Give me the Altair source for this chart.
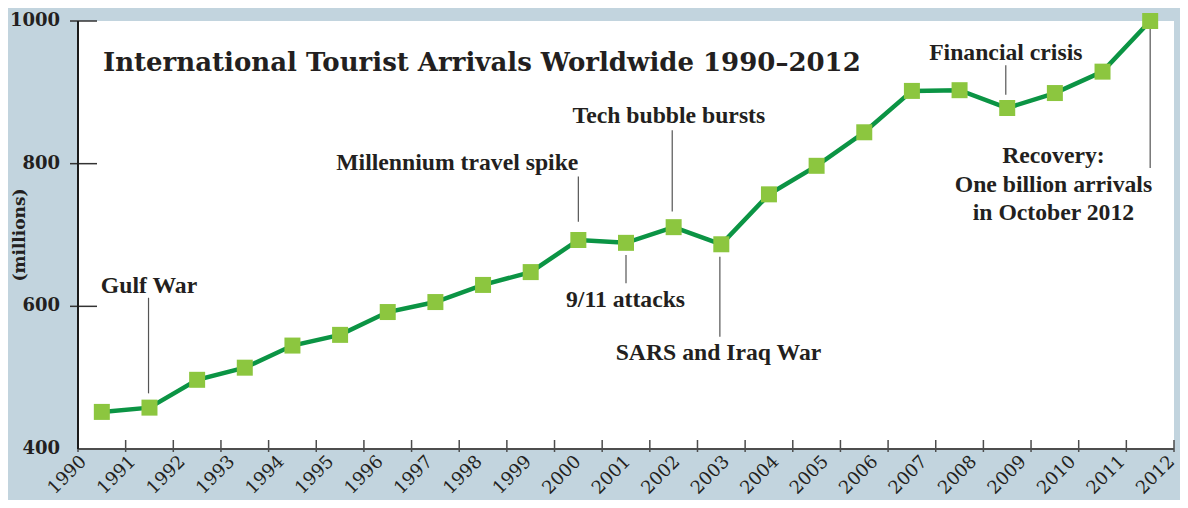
import altair as alt
import pandas as pd

# ---- data ----
years = list(range(1990, 2013))
arrivals = [452, 458, 497, 514, 545, 560, 592, 606, 630, 648, 693, 689, 711,
            687, 757, 797, 844, 902, 903, 878, 899, 929, 1000]
tick_years = list(range(1990, 2014))
label_years = list(range(1990, 2013))
y_tick_values = [400, 600, 800, 1000]
y_inner_ticks = [600, 800, 1000]
y_title = "(millions)"

title_text = "International Tourist Arrivals Worldwide 1990\u20132012"

ann_texts = ["Gulf War", "Millennium travel spike", "9/11 attacks",
             "Tech bubble bursts", "SARS and Iraq War", "Financial crisis"]
ann_x = [1990.48, 2000.5, 2001.49, 2002.4, 2003.44, 2009.47]
ann_y = [618, 791, 599.5, 856.5, 525, 945.3]
ann_align = ["left", "right", "center", "center", "center", "center"]

recovery_lines = ["Recovery:", "One billion arrivals", "in October 2012"]
recovery_x = 2010.47
recovery_y = 800.5

lead_x = [1991.48, 2000.5, 2001.5, 2002.47, 2003.47, 2009.47, 2012.5]
lead_y1 = [612, 782, 672, 847, 669.5, 938, 990]
lead_y2 = [478, 718.5, 632.5, 733, 557.5, 896.5, 794]

# ---- style ----
BG = "#c2d4de"
LINE = "#0b9444"
SQUARE = "#8cc63f"
TXT = "#231f20"
SERIF = "DejaVu Serif"
ANN_FONT = "Liberation Serif"

xscale = alt.Scale(domain=[1990, 2013], nice=False, zero=False)
yscale = alt.Scale(domain=[400, 1000], nice=False, zero=False)
X0, X1 = 1990, 2013
Y0, Y1 = 400, 1000

df = pd.DataFrame({"year": years, "arrivals": arrivals})
base = alt.Chart(df).transform_calculate(xpos="datum.year + 0.5")

# --- axes drawn as marks through the scales ---
x_domain = alt.Chart(pd.DataFrame({"a": [X0], "b": [X1], "y": [Y0]})).mark_rule(
    color="#4d4d4d", strokeWidth=2).encode(
    x=alt.X("a:Q", scale=xscale, axis=None), x2="b:Q",
    y=alt.Y("y:Q", scale=yscale, axis=None),
)
y_domain = alt.Chart(pd.DataFrame({"a": [Y0], "b": [Y1], "x": [X0]})).mark_rule(
    color="#1a1a1a", strokeWidth=2).encode(
    y=alt.Y("a:Q", scale=yscale, axis=None), y2="b:Q",
    x=alt.X("x:Q", scale=xscale, axis=None),
)

xticks = alt.Chart(pd.DataFrame({"t": tick_years})).mark_rule(
    color="#4d4d4d", strokeWidth=1.5).encode(
    x=alt.X("t:Q", scale=xscale, axis=None),
    y=alt.value(419), y2=alt.value(431),
)

yticks = alt.Chart(pd.DataFrame({"v": y_inner_ticks})).mark_rule(
    color="#333333", strokeWidth=1.5).encode(
    y=alt.Y("v:Q", scale=yscale, axis=None),
    x=alt.value(-8), x2=alt.value(19),
)

ylabels = alt.Chart(pd.DataFrame({"v": y_tick_values})).mark_text(
    align="right", baseline="middle", font=SERIF, fontSize=18,
    fontWeight="bold", color=TXT).encode(
    y=alt.Y("v:Q", scale=yscale, axis=None),
    x=alt.value(-18),
    text=alt.Text("v:Q"),
)

ytitle = alt.Chart(pd.DataFrame({"v": [(Y0 + Y1) / 2]})).mark_text(
    text=y_title, angle=270, align="center", baseline="middle", font=SERIF,
    fontSize=17, fontWeight="bold", color=TXT).encode(
    y=alt.Y("v:Q", scale=yscale, axis=None),
    x=alt.value(-58),
)

line = base.mark_line(color=LINE, strokeWidth=4.5).encode(
    x=alt.X("xpos:Q", scale=xscale, axis=None),
    y=alt.Y("arrivals:Q", scale=yscale, axis=None),
)

points = base.mark_point(shape="square", filled=True, size=256,
                         color=SQUARE, opacity=1).encode(
    x=alt.X("xpos:Q", scale=xscale, axis=None),
    y=alt.Y("arrivals:Q", scale=yscale, axis=None),
)

xlabels = alt.Chart(pd.DataFrame({"yr": label_years})).transform_calculate(
    xl="1990.12 + (datum.yr - 1990) * 1.0381"
).mark_text(angle=315, align="right", baseline="middle", font=SERIF,
            fontSize=18, color=TXT).encode(
    x=alt.X("xl:Q", scale=xscale, axis=None),
    y=alt.value(438),
    text=alt.Text("yr:N"),
)

leaders = alt.Chart(pd.DataFrame({"x": lead_x, "y1": lead_y1, "y2": lead_y2})).mark_rule(
    color="#555555", strokeWidth=1.2).encode(
    x=alt.X("x:Q", scale=xscale, axis=None),
    y=alt.Y("y1:Q", scale=yscale, axis=None),
    y2="y2:Q",
)

ann_layers = []
for t, ax, ay, al in zip(ann_texts, ann_x, ann_y, ann_align):
    ann_layers.append(
        alt.Chart(pd.DataFrame({"x": [ax], "y": [ay]})).mark_text(
            text=t, align=al, baseline="alphabetic", font=ANN_FONT,
            fontSize=23.7, fontWeight="bold", color=TXT).encode(
            x=alt.X("x:Q", scale=xscale, axis=None),
            y=alt.Y("y:Q", scale=yscale, axis=None),
        )
    )

recovery = alt.Chart(pd.DataFrame({"x": [recovery_x], "y": [recovery_y]})).mark_text(
    text=recovery_lines, align="center", baseline="alphabetic", font=ANN_FONT,
    fontSize=23.7, fontWeight="bold", color=TXT, lineHeight=28.3).encode(
    x=alt.X("x:Q", scale=xscale, axis=None),
    y=alt.Y("y:Q", scale=yscale, axis=None),
)

title = alt.Chart(pd.DataFrame({"x": [0]})).mark_text(
    text=title_text, align="left", baseline="alphabetic", font=SERIF,
    fontSize=26, fontWeight="bold", color=TXT).encode(
    x=alt.value(25), y=alt.value(50),
)

chart = alt.layer(
    xticks, yticks, x_domain, y_domain, line, leaders, points,
    xlabels, ylabels, ytitle, *ann_layers, recovery, title
).properties(
    width=1096, height=428,
    autosize=alt.AutoSizeParams(type="none"),
    padding={"left": 70, "top": 13, "right": 6, "bottom": 51},
    background=BG,
).configure_view(
    fill="white", strokeWidth=0
)

chart.save("out.html", embed_options={"renderer": "svg", "actions": False})
